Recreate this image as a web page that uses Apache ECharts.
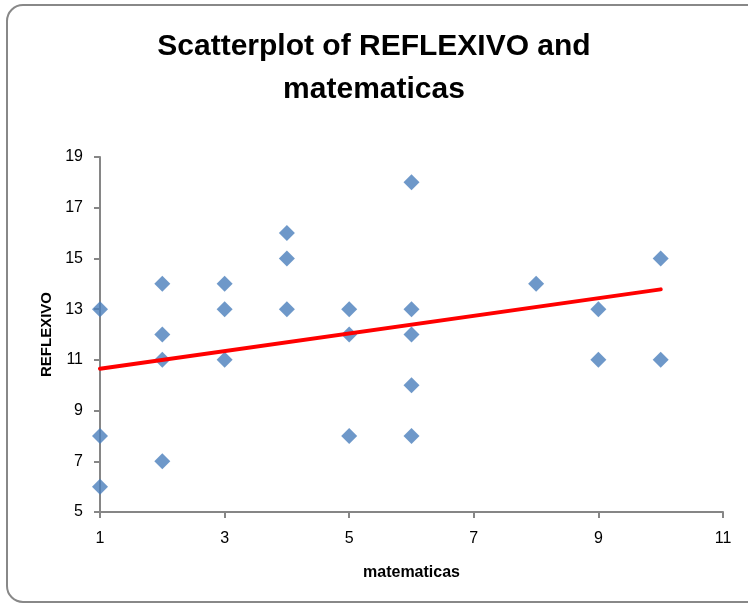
<!DOCTYPE html>
<html>
<head>
<meta charset="utf-8">
<style>
  html, body { margin: 0; padding: 0; background: #ffffff; }
  #chart { width: 748px; height: 604px; }
</style>
<script src="https://cdn.jsdelivr.net/npm/echarts@6/dist/echarts.min.js"></script>
</head>
<body>
<div id="chart"></div>
<script>
// Observed pairs: matematicas score (x) and REFLEXIVO score (y)
const matematicas = [1, 1, 1, 2, 2, 2, 2, 3, 3, 3, 4, 4, 4, 5, 5, 5, 6, 6, 6, 6, 6, 8, 9, 9, 10, 10];
const reflexivo   = [13, 8, 6, 14, 12, 11, 7, 14, 13, 11, 16, 15, 13, 13, 12, 8, 18, 13, 12, 10, 8, 14, 13, 11, 15, 11];

// Linear trend line endpoints
const trendX = [1, 10];
const trendY = [10.65, 13.78];

const xTicks = [1, 3, 5, 7, 9, 11];
const yTicks = [5, 7, 9, 11, 13, 15, 17, 19];

const font = '"Liberation Sans", Arial, sans-serif';

const chart = echarts.init(document.getElementById('chart'), null, { renderer: 'canvas' });

const points = matematicas.map((x, i) => [x, reflexivo[i]]);
const trend = trendX.map((x, i) => [x, trendY[i]]);

chart.setOption({
  animation: false,
  backgroundColor: '#ffffff',
  title: {
    text: 'Scatterplot of REFLEXIVO and\nmatematicas',
    left: 'center',
    top: 20,
    textStyle: {
      fontFamily: font,
      fontWeight: 'bold',
      fontSize: 30,
      lineHeight: 43,
      color: '#000000'
    }
  },
  graphic: [{
    type: 'rect',
    shape: { x: 7, y: 5, width: 760, height: 597, r: 16 },
    style: { fill: 'none', stroke: '#888888', lineWidth: 2 },
    silent: true,
    z: 100
  }],
  grid: { left: 100, right: 25, top: 157, bottom: 92 },
  xAxis: {
    type: 'value',
    min: xTicks[0],
    max: xTicks[xTicks.length - 1],
    interval: 2,
    name: 'matematicas',
    nameLocation: 'middle',
    nameGap: 53,
    nameTextStyle: { fontFamily: font, fontWeight: 'bold', fontSize: 16, color: '#000' },
    splitLine: { show: false },
    axisLine: { show: true, lineStyle: { color: '#868686', width: 2 } },
    axisTick: { show: true, inside: false, length: 6, lineStyle: { color: '#868686', width: 2 } },
    axisLabel: { fontFamily: font, fontSize: 16, color: '#000', margin: 19 }
  },
  yAxis: {
    type: 'value',
    min: yTicks[0],
    max: yTicks[yTicks.length - 1],
    interval: 2,
    name: 'REFLEXIVO',
    nameLocation: 'middle',
    nameRotate: 90,
    nameGap: 46,
    nameTextStyle: { fontFamily: font, fontWeight: 'bold', fontSize: 15, color: '#000' },
    splitLine: { show: false },
    axisLine: { show: true, onZero: false, lineStyle: { color: '#868686', width: 2 } },
    axisTick: { show: true, inside: false, length: 6, lineStyle: { color: '#868686', width: 2 } },
    axisLabel: { fontFamily: font, fontSize: 16, color: '#000', margin: 17 }
  },
  series: [
    {
      type: 'scatter',
      data: points,
      symbol: 'diamond',
      symbolSize: 16,
      itemStyle: { color: '#4a7ebb' },
      z: 3
    },
    {
      type: 'line',
      data: trend,
      symbol: 'none',
      lineStyle: { color: '#ff0000', width: 4, cap: 'round' },
      z: 4
    }
  ]
});
</script>
</body>
</html>
